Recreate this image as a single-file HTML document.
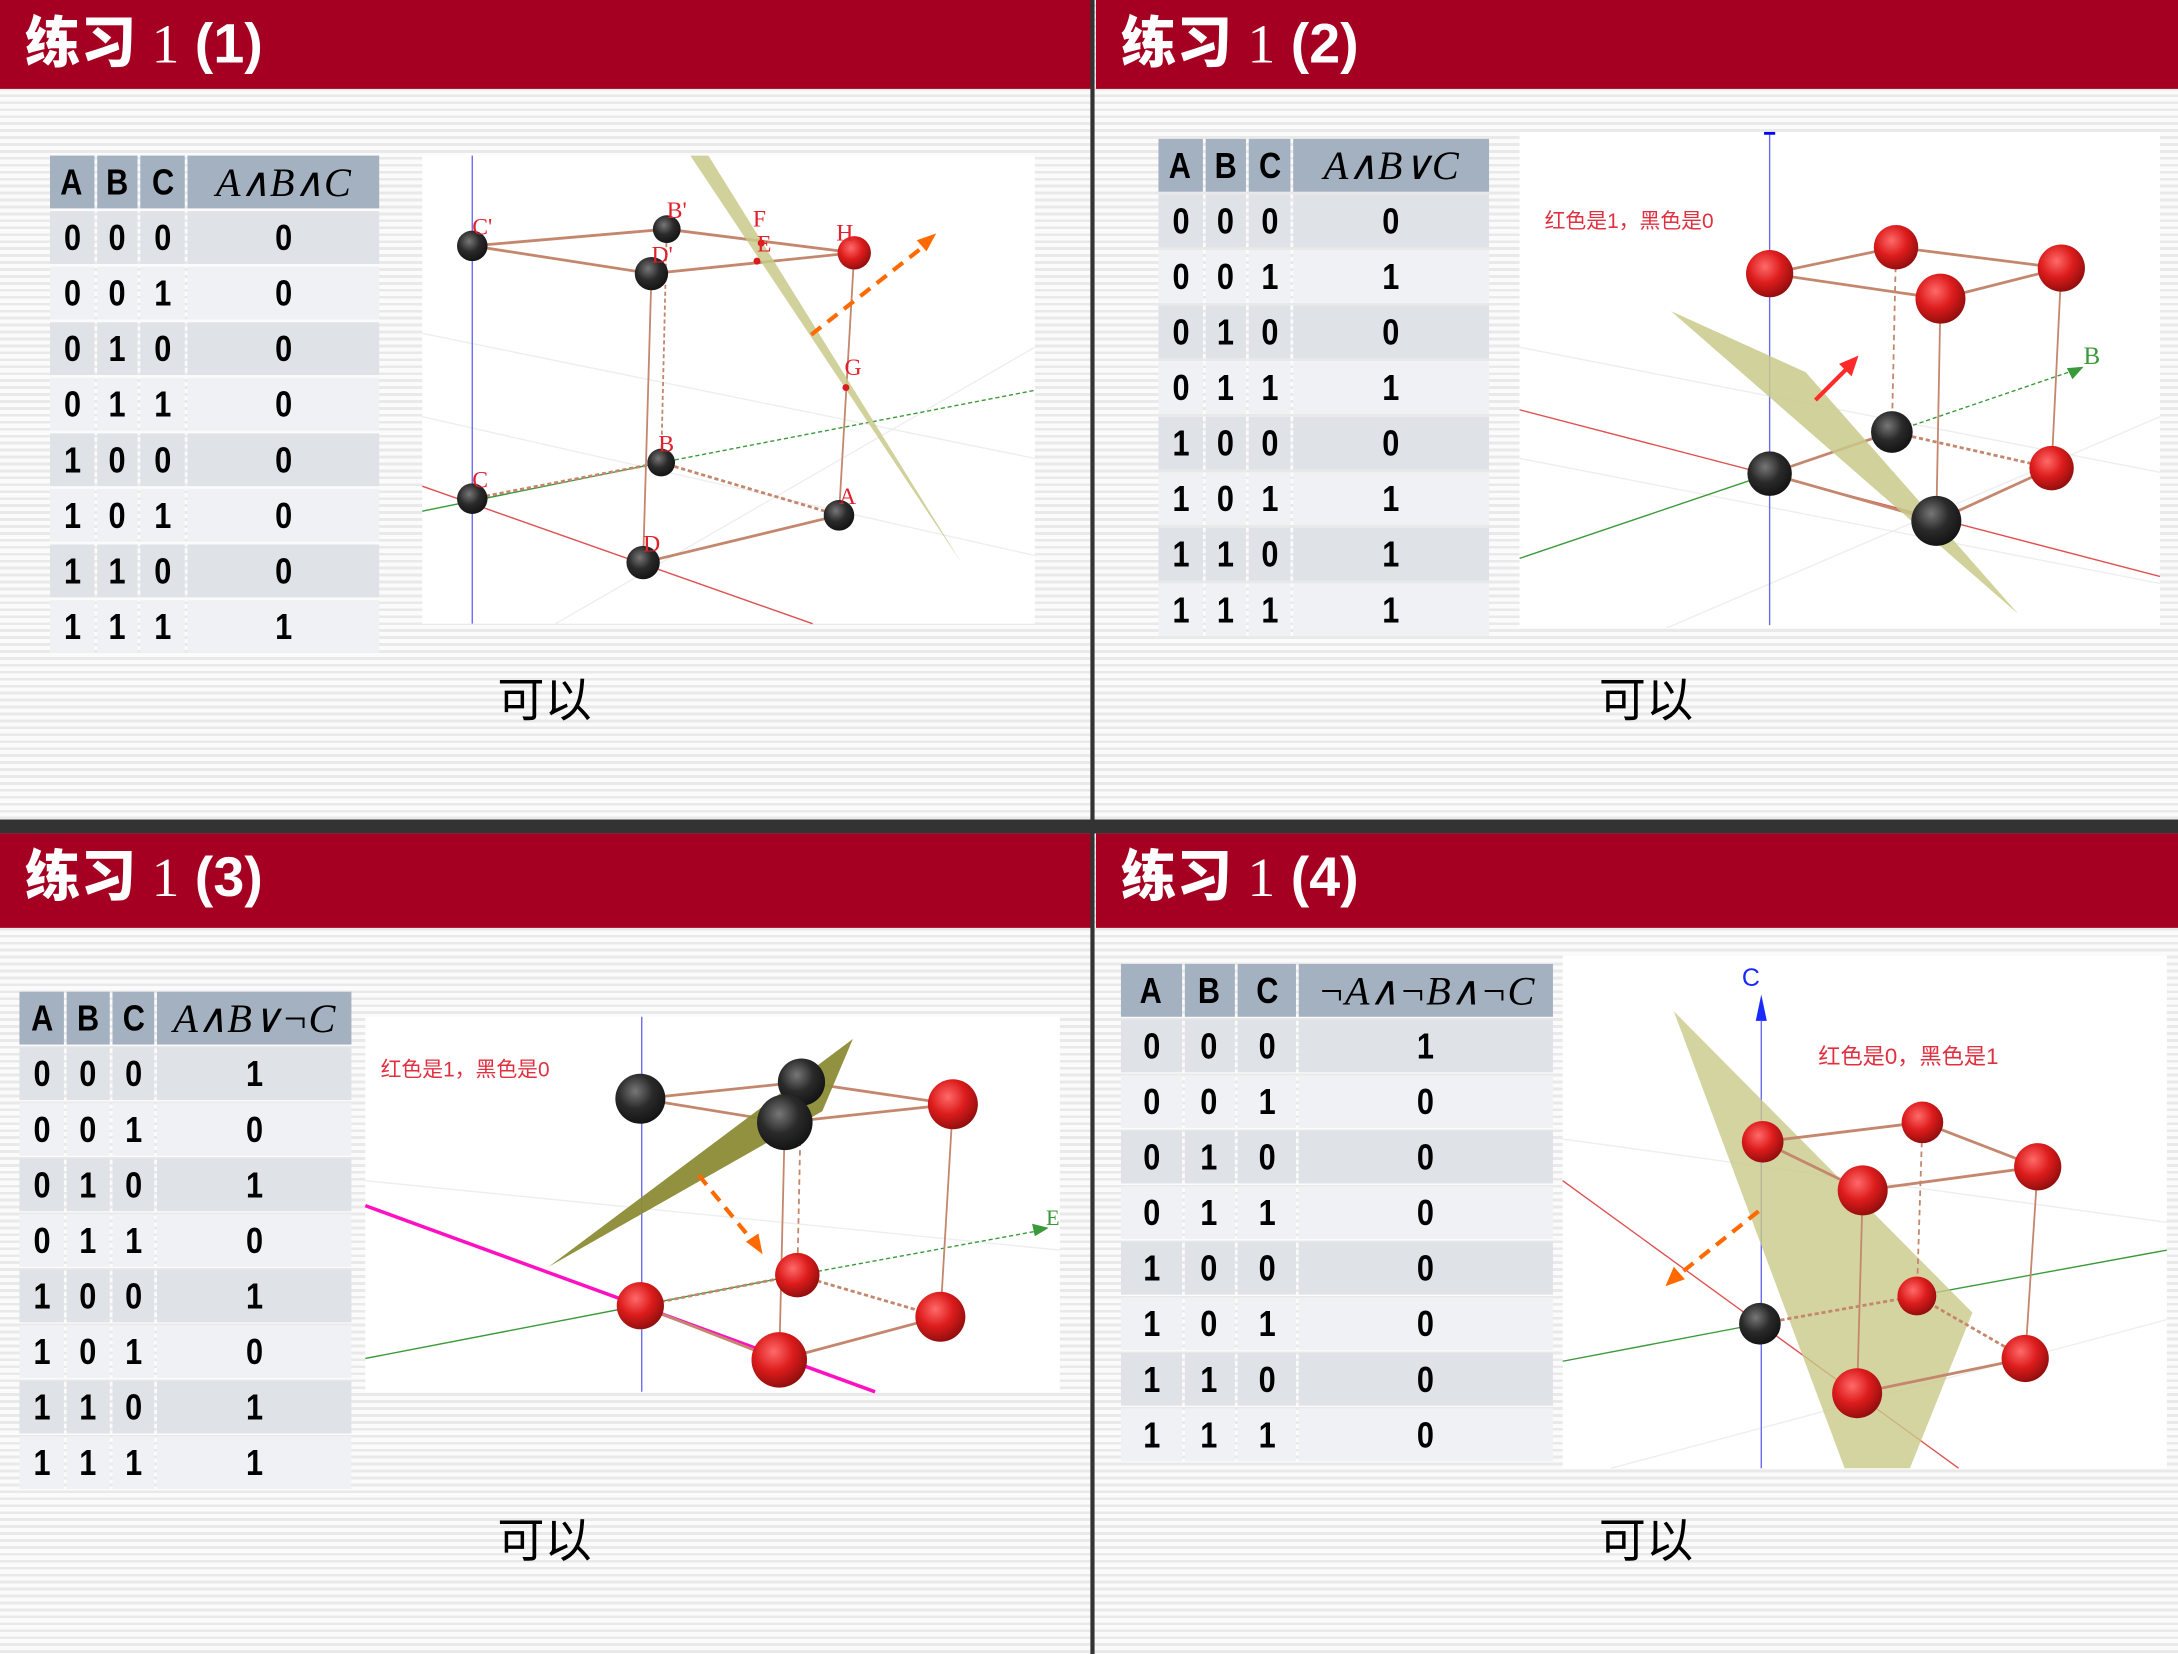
<!DOCTYPE html>
<html><head><meta charset="utf-8"><style>
html,body{margin:0;padding:0;width:2178px;height:1654px;overflow:hidden;background:#f4f4f4}
#page{position:absolute;left:0;top:0;width:1568px;height:1191px;transform:scale(1.38903);transform-origin:0 0;
background:repeating-linear-gradient(to bottom,#fbfbfb 0,#fbfbfb 3px,#e9e9e9 3px,#e9e9e9 5px);font-family:"Liberation Sans","Noto Sans CJK SC",sans-serif}
.hdr{position:absolute;background:#a50021;color:#fff;height:64px}
.hdr span{position:absolute;left:18px;top:-1px;font-size:40px;white-space:nowrap}
.hdr .cj{font-family:"Noto Sans CJK SC",sans-serif;font-weight:900}
.hdr .n{font-family:"Liberation Serif",serif;font-weight:normal}
.hdr .p{font-weight:bold}
table{position:absolute;border-collapse:separate;border-spacing:2px;font-weight:bold;font-size:26px}
td,th{padding:0;text-align:center;height:38px}
td span,th span{display:inline-block;transform:scaleX(0.85)}
th{background:#a3b1c1;font-weight:bold}
th.m{font-family:"Liberation Serif",serif;font-style:italic;font-weight:normal;font-size:29px}
tr:nth-child(even) td{background:#dfe2e7}
tr:nth-child(odd) td{background:#eff1f4}
.ok{position:absolute;font-size:34px;font-family:"Liberation Sans","Noto Sans CJK SC",sans-serif}
.panel{position:absolute;background:#fff}
svg{position:absolute;left:0;top:0}
</style></head><body>
<div id="page">
<div class="hdr" style="left:0;top:0;width:786px"><span><b class="cj">练习</b> <span class="n" style="position:static">1</span> <span class="p" style="position:static">(1)</span></span></div>
<div class="hdr" style="left:789px;top:0;width:779px"><span><b class="cj">练习</b> <span class="n" style="position:static">1</span> <span class="p" style="position:static">(2)</span></span></div>
<div style="position:absolute;left:0;top:590px;width:1568px;height:10px;background:#333"></div>
<div class="hdr" style="left:0;top:600px;width:786px;height:68px"><span><b class="cj">练习</b> <span class="n" style="position:static">1</span> <span class="p" style="position:static">(3)</span></span></div>
<div class="hdr" style="left:789px;top:600px;width:779px;height:68px"><span><b class="cj">练习</b> <span class="n" style="position:static">1</span> <span class="p" style="position:static">(4)</span></span></div>
<div style="position:absolute;left:785px;top:0;width:3px;height:1191px;background:#333"></div>

<div class="panel" style="left:304px;top:112px;width:441px;height:337px"></div>
<div class="panel" style="left:1094px;top:95px;width:461px;height:357px"></div>
<div class="panel" style="left:263px;top:732px;width:500px;height:270px"></div>
<div class="panel" style="left:1125px;top:688px;width:435px;height:369px"></div>

<table id="t1" style="left:34px;top:110px;width:241px"></table>
<table id="t2" style="left:832px;top:98px;width:242px"></table>
<table id="t3" style="left:12px;top:712px;width:243px"></table>
<table id="t4" style="left:805px;top:692px;width:315px"></table>

<div class="ok" style="left:358px;top:477px">可以</div>
<div class="ok" style="left:1151px;top:477px">可以</div>
<div class="ok" style="left:358px;top:1082px">可以</div>
<div class="ok" style="left:1151px;top:1082px">可以</div>

<svg width="1568" height="1191" viewBox="0 0 1568 1191">
<defs>
<radialGradient id="rd" cx="0.4" cy="0.35" r="0.7"><stop offset="0" stop-color="#ff6a6a"/><stop offset="0.5" stop-color="#dd1c1c"/><stop offset="1" stop-color="#8a0c0c"/></radialGradient>
<radialGradient id="bk" cx="0.4" cy="0.35" r="0.7"><stop offset="0" stop-color="#777"/><stop offset="0.5" stop-color="#2a2a2a"/><stop offset="1" stop-color="#111"/></radialGradient>
</defs>
<g stroke="#eee" stroke-width="1">
<line x1="304" y1="240" x2="745" y2="330"/><line x1="304" y1="300" x2="745" y2="400"/><line x1="400" y1="449" x2="745" y2="250"/>
<line x1="1094" y1="250" x2="1555" y2="340"/><line x1="1094" y1="330" x2="1555" y2="420"/><line x1="1200" y1="452" x2="1555" y2="300"/>
<line x1="263" y1="850" x2="763" y2="900"/><line x1="1125" y1="820" x2="1560" y2="880"/><line x1="1160" y1="1057" x2="1560" y2="950"/>
</g>
<line x1="340" y1="112" x2="340" y2="449" stroke="#6b6bf0"/>
<line x1="304" y1="350" x2="585" y2="449" stroke="#e05050"/>
<line x1="304" y1="368" x2="476" y2="333" stroke="#3a9a3a"/>
<line x1="476" y1="333" x2="745" y2="281" stroke="#3a9a3a" stroke-dasharray="3,2"/>
<g stroke="#c4876e" stroke-width="2" fill="none">
<line x1="340" y1="177" x2="480" y2="165"/><line x1="340" y1="177" x2="469" y2="197"/>
<line x1="480" y1="165" x2="615" y2="182"/><line x1="469" y1="197" x2="615" y2="182"/>
<line x1="469" y1="197" x2="463" y2="405" stroke-width="1.3"/><line x1="615" y1="182" x2="604" y2="371" stroke-width="1.3"/>
<line x1="463" y1="405" x2="604" y2="371"/>
<line x1="480" y1="165" x2="476" y2="333" stroke-dasharray="3,2" stroke-width="1.3"/>
<line x1="340" y1="359" x2="476" y2="333" stroke-dasharray="3,2"/><line x1="476" y1="333" x2="604" y2="371" stroke-dasharray="3,2"/>
</g>
<polygon points="497,112 510,112 692,405" fill="#c9c98a" opacity="0.85"/>
<line x1="584" y1="241" x2="668" y2="175" stroke="#ff6a00" stroke-width="3" stroke-dasharray="9,6"/>
<polygon points="674,168 660,173 667,181" fill="#ff6a00"/>
<g fill="url(#bk)"><circle cx="340" cy="177" r="11"/><circle cx="480" cy="165" r="10"/><circle cx="469" cy="197" r="12"/><circle cx="476" cy="333" r="10"/><circle cx="340" cy="359" r="11"/><circle cx="604" cy="371" r="11"/><circle cx="463" cy="405" r="12"/></g>
<circle cx="615" cy="182" r="12" fill="url(#rd)"/>
<g fill="#d81c1c"><circle cx="548" cy="175" r="2.5"/><circle cx="545" cy="188" r="2.5"/><circle cx="609" cy="279" r="2.5"/></g>
<g font-family="Liberation Serif" font-size="17" fill="#e0202c">
<text x="340" y="169">C'</text><text x="480" y="157">B'</text><text x="469" y="189">D'</text><text x="542" y="163">F</text><text x="545" y="181">E</text><text x="602" y="173">H</text><text x="608" y="270">G</text><text x="474" y="325">B</text><text x="340" y="351">C</text><text x="604" y="363">A</text><text x="463" y="397">D</text></g>
<line x1="1274" y1="97" x2="1274" y2="450" stroke="#6b6bf0"/><rect x="1270" y="95" width="8" height="2" fill="#00f"/>
<line x1="1094" y1="295" x2="1555" y2="415" stroke="#e05050"/>
<line x1="1094" y1="402" x2="1363" y2="311" stroke="#3a9a3a"/>
<line x1="1363" y1="311" x2="1495" y2="266" stroke="#3a9a3a" stroke-dasharray="3,2"/>
<polygon points="1500,264 1488,265 1492,273" fill="#3a9a3a"/>
<text x="1500" y="262" font-family="Liberation Serif" font-size="18" fill="#3a9a3a">B</text>
<g stroke="#c4876e" stroke-width="2" fill="none">
<line x1="1274" y1="197" x2="1365" y2="178"/><line x1="1274" y1="197" x2="1397" y2="215"/>
<line x1="1365" y1="178" x2="1484" y2="193"/><line x1="1397" y1="215" x2="1484" y2="193"/>
<line x1="1397" y1="215" x2="1394" y2="375" stroke-width="1.3"/><line x1="1484" y1="193" x2="1477" y2="337" stroke-width="1.3"/>
<line x1="1365" y1="178" x2="1362" y2="311" stroke-dasharray="4,3" stroke-width="1.3"/>
<line x1="1274" y1="341" x2="1362" y2="311"/><line x1="1362" y1="311" x2="1477" y2="337" stroke-dasharray="3,2"/>
<line x1="1274" y1="341" x2="1394" y2="375"/><line x1="1394" y1="375" x2="1477" y2="337"/>
</g>
<polygon points="1203,224 1300,268 1453,442" fill="#c9c98a" opacity="0.85"/>
<line x1="1307" y1="288" x2="1332" y2="263" stroke="#ff2a2a" stroke-width="3"/><polygon points="1338,256 1324,262 1333,271" fill="#ff2a2a"/>
<g fill="url(#rd)"><circle cx="1274" cy="197" r="17"/><circle cx="1365" cy="178" r="16"/><circle cx="1484" cy="193" r="17"/><circle cx="1397" cy="215" r="18"/><circle cx="1477" cy="337" r="16"/></g>
<g fill="url(#bk)"><circle cx="1362" cy="311" r="15"/><circle cx="1274" cy="341" r="16"/><circle cx="1394" cy="375" r="18"/></g>
<text x="1112" y="164" font-size="15" fill="#e03040" font-family="Liberation Sans,Noto Sans CJK SC,sans-serif">红色是1，黑色是0</text>
<line x1="462" y1="732" x2="462" y2="1002" stroke="#6b6bf0"/>
<line x1="263" y1="868" x2="630" y2="1002" stroke="#ff10c0" stroke-width="2.5"/>
<line x1="263" y1="978" x2="574" y2="918" stroke="#3a9a3a"/>
<line x1="574" y1="918" x2="748" y2="886" stroke="#3a9a3a" stroke-dasharray="3,2"/>
<polygon points="755,884 743,881 745,890" fill="#3a9a3a"/>
<text x="753" y="882" font-family="Liberation Serif" font-size="16" fill="#3a9a3a">E</text>
<g stroke="#c4876e" stroke-width="2" fill="none">
<line x1="461" y1="791" x2="577" y2="779"/><line x1="461" y1="791" x2="565" y2="808"/>
<line x1="577" y1="779" x2="686" y2="795"/><line x1="565" y1="808" x2="686" y2="795"/>
<line x1="565" y1="808" x2="561" y2="979" stroke-width="1.3"/><line x1="686" y1="795" x2="677" y2="948" stroke-width="1.3"/>
<line x1="577" y1="779" x2="574" y2="918" stroke-dasharray="4,3" stroke-width="1.3"/>
<line x1="461" y1="940" x2="574" y2="918" stroke-dasharray="3,2"/><line x1="574" y1="918" x2="677" y2="948" stroke-dasharray="3,2"/>
<line x1="461" y1="940" x2="561" y2="979"/><line x1="561" y1="979" x2="677" y2="948"/>
</g>
<polygon points="395,912 614,748 592,800" fill="#8b8b36" opacity="0.95"/>
<line x1="503" y1="846" x2="543" y2="895" stroke="#ff6a00" stroke-width="3" stroke-dasharray="9,6"/><polygon points="549,903 537,894 546,888" fill="#ff6a00"/>
<g fill="url(#bk)"><circle cx="461" cy="791" r="18"/><circle cx="577" cy="779" r="17"/><circle cx="565" cy="808" r="20"/></g>
<g fill="url(#rd)"><circle cx="686" cy="795" r="18"/><circle cx="574" cy="918" r="16"/><circle cx="461" cy="940" r="17"/><circle cx="677" cy="948" r="18"/><circle cx="561" cy="979" r="20"/></g>
<text x="274" y="775" font-size="15" fill="#e03040" font-family="Liberation Sans,Noto Sans CJK SC,sans-serif">红色是1，黑色是0</text>
<line x1="1268" y1="735" x2="1268" y2="1057" stroke="#6b6bf0"/>
<polygon points="1268,716 1264,735 1272,735" fill="#1a2aff"/>
<text x="1254" y="710" font-family="Liberation Sans" font-size="18" fill="#1a2aff">C</text>
<line x1="1125" y1="850" x2="1410" y2="1057" stroke="#e05050"/>
<line x1="1125" y1="980" x2="1267" y2="953" stroke="#3a9a3a"/>
<line x1="1380" y1="933" x2="1560" y2="900" stroke="#3a9a3a"/>
<polygon points="1205,728 1420,945 1375,1057 1328,1057" fill="#c9c98a" opacity="0.8"/>
<g stroke="#c4876e" stroke-width="2" fill="none">
<line x1="1269" y1="822" x2="1384" y2="808"/><line x1="1269" y1="822" x2="1341" y2="857"/>
<line x1="1384" y1="808" x2="1467" y2="840"/><line x1="1341" y1="857" x2="1467" y2="840"/>
<line x1="1341" y1="857" x2="1337" y2="1003" stroke-width="1.3"/><line x1="1467" y1="840" x2="1458" y2="978" stroke-width="1.3"/>
<line x1="1384" y1="808" x2="1380" y2="933" stroke-dasharray="4,3" stroke-width="1.3"/>
<line x1="1267" y1="953" x2="1380" y2="933" stroke-dasharray="3,2"/><line x1="1380" y1="933" x2="1458" y2="978" stroke-dasharray="3,2"/>
<line x1="1337" y1="1003" x2="1458" y2="978"/>
</g>
<line x1="1266" y1="872" x2="1207" y2="919" stroke="#ff6a00" stroke-width="3" stroke-dasharray="9,6"/><polygon points="1199,926 1205,912 1213,921" fill="#ff6a00"/>
<g fill="url(#rd)"><circle cx="1269" cy="822" r="15"/><circle cx="1384" cy="808" r="15"/><circle cx="1467" cy="840" r="17"/><circle cx="1341" cy="857" r="18"/><circle cx="1380" cy="933" r="14"/><circle cx="1458" cy="978" r="17"/><circle cx="1337" cy="1003" r="18"/></g>
<circle cx="1267" cy="953" r="15" fill="url(#bk)"/>
<text x="1309" y="766" font-size="16" fill="#e03040" font-family="Liberation Sans,Noto Sans CJK SC,sans-serif">红色是0，黑色是1</text>
</svg>
</div>
<script>
const rowsA=[0,0,0,0,1,1,1,1];
const rowsB=[0,0,1,1,0,0,1,1];
const rowsC=[0,1,0,1,0,1,0,1];
const out1=[0,0,0,0,0,0,0,1];
const out2=[0,1,0,1,0,1,1,1];
const out3=[1,0,1,0,1,0,1,1];
const out4=[1,0,0,0,0,0,0,0];
const heads=["A∧B∧C","A∧B∨C","A∧B∨¬C","¬A∧¬B∧¬C"];
const outs=[out1,out2,out3,out4];
const widths=[[32,30,32,139],[32,30,30,142],[32,30,30,138],[44,36,43,183]];
for(let t=0;t<4;t++){
  const tb=document.getElementById('t'+(t+1));
  const w=widths[t];
  let h='<tr><th style="width:'+w[0]+'px"><span>A</span></th><th style="width:'+w[1]+'px"><span>B</span></th><th style="width:'+w[2]+'px"><span>C</span></th><th class="m" style="width:'+w[3]+'px">'+heads[t]+'</th></tr>';
  for(let i=0;i<8;i++){h+='<tr><td><span>'+rowsA[i]+'</span></td><td><span>'+rowsB[i]+'</span></td><td><span>'+rowsC[i]+'</span></td><td><span>'+outs[t][i]+'</span></td></tr>';}
  tb.innerHTML=h;
  tb.querySelectorAll('tr').forEach((r,i)=>{
    
    
  });
}
</script>
</body></html>
